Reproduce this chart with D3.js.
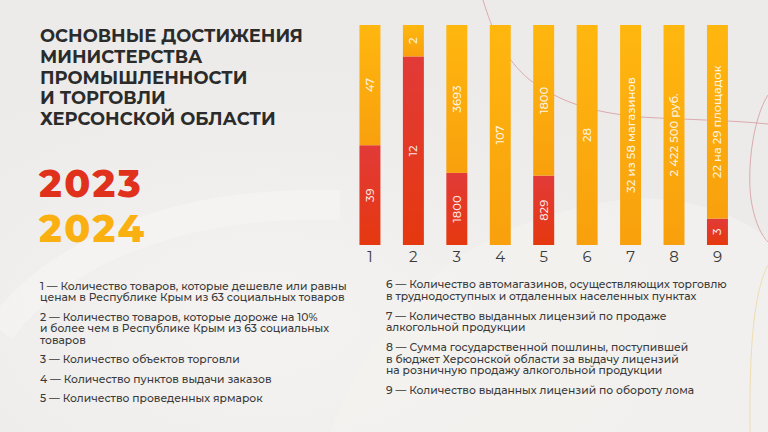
<!DOCTYPE html>
<html><head><meta charset="utf-8">
<script src="https://cdn.jsdelivr.net/npm/d3@7/dist/d3.min.js"></script>
<style>
html,body{margin:0;padding:0;background:#efeeec;overflow:hidden}
svg{display:block}
</style></head>
<body>
<svg id="c" width="768" height="432"></svg>
<script>
// ---- data ----
const categories = ["1","2","3","4","5","6","7","8","9"];
const values2023 = [39, 12, 1800, 0, 829, 0, 0, 0, 3];
const values2024 = [47, 2, 3693, 107, 1800, 28, 32, 2422500, 22];
const labels2023 = ["39","12","1800","","829","","","","3"];
const labels2024 = ["47","2","3693","107","1800","28","32 из 58 магазинов","2 422 500 руб.","22 на 29 площадок"];
const seriesNames = ["2023","2024"];
const titleLines = ["ОСНОВНЫЕ ДОСТИЖЕНИЯ","МИНИСТЕРСТВА","ПРОМЫШЛЕННОСТИ","И ТОРГОВЛИ","ХЕРСОНСКОЙ ОБЛАСТИ"];
const legendLeft = [
  ["1 — Количество товаров, которые дешевле или равны","ценам в Республике Крым из 63 социальных товаров"],
  ["2 — Количество товаров, которые дороже на 10%","и более чем в Республике Крым из 63 социальных","товаров"],
  ["3 — Количество объектов торговли"],
  ["4 — Количество пунктов выдачи заказов"],
  ["5 — Количество проведенных ярмарок"]
];
const legendRight = [
  ["6 — Количество автомагазинов, осуществляющих торговлю","в труднодоступных и отдаленных населенных пунктах"],
  ["7 — Количество выданных лицензий по продаже","алкогольной продукции"],
  ["8 — Сумма государственной пошлины, поступившей","в бюджет Херсонской области за выдачу лицензий","на розничную продажу алкогольной продукции"],
  ["9 — Количество выданных лицензий по обороту лома"]
];

const FONT = "Montserrat, Inter, 'Noto Sans', sans-serif";
const svg = d3.select("#c");
const defs = svg.append("defs");

// background
const bg = defs.append("radialGradient").attr("id","bgG").attr("cx","0.35").attr("cy","0.75").attr("r","0.6");
bg.append("stop").attr("offset","0").attr("stop-color","#f4f3f1");
bg.append("stop").attr("offset","1").attr("stop-color","#ecebe9");
svg.append("rect").attr("width",768).attr("height",432).attr("fill","url(#bgG)");
// subtle decorative shapes
svg.append("path").attr("d","M330,432 C380,300 470,220 620,200 C700,190 760,230 768,240 L768,432 Z")
  .attr("fill","#f3f2f0").attr("opacity",0.7);
svg.append("path").attr("d","M0,330 C60,250 180,200 340,205")
  .attr("fill","none").attr("stroke","#f6f5f3").attr("stroke-width",30).attr("opacity",0.6);
svg.append("path").attr("d","M483,0 C492,30 505,60 530,80 C560,102 590,112 640,117 C690,120 730,120 768,124")
  .attr("fill","none").attr("stroke","#d9a3a6").attr("stroke-width",0.9);
svg.append("path").attr("d","M768,95 C752,120 746,175 752,205 C756,225 762,236 768,242")
  .attr("fill","none").attr("stroke","#d9a3a6").attr("stroke-width",0.9);
svg.append("path").attr("d","M768,265 C755,290 749,340 750,432")
  .attr("fill","none").attr("stroke","#efd9a8").attr("stroke-width",0.9);

// gradients for bars
const gO = defs.append("linearGradient").attr("id","gO").attr("x1",0).attr("y1",0).attr("x2",0).attr("y2",1);
gO.append("stop").attr("offset","0").attr("stop-color","#ffb70f");
gO.append("stop").attr("offset","1").attr("stop-color","#f8a00d");
const gR = defs.append("linearGradient").attr("id","gR").attr("x1",0).attr("y1",0).attr("x2",0).attr("y2",1);
gR.append("stop").attr("offset","0").attr("stop-color","#e23a38");
gR.append("stop").attr("offset","1").attr("stop-color","#e5380f");

// helper: fit font-size so that a text reaches a target width
function fitSize(sel, target){
  const w = sel.node().getComputedTextLength();
  const fs = parseFloat(sel.attr("font-size"));
  return fs * target / w;
}

// ---- title ----
const title = svg.append("g");
const tl = title.selectAll("text").data(titleLines).join("text")
  .attr("x",40).attr("y",(d,i)=>42 + i*20.75)
  .attr("font-family",FONT).attr("font-weight",700).attr("font-size",17)
  .attr("fill","#2b2b2b").text(d=>d);
const tfs = fitSize(d3.select(tl.nodes()[0]), 263);
tl.attr("font-size",tfs);

// ---- years ----
const yearColors = ["#e0311c","#fbb011"];
const yr = svg.selectAll("text.yr").data(seriesNames).join("text").attr("class","yr")
  .attr("x",39).attr("y",(d,i)=>197 + i*45)
  .attr("font-family",FONT).attr("font-weight",800).attr("font-size",38)
  .attr("fill",(d,i)=>yearColors[i]).text(d=>d);
// widen with letter spacing to reference width
const yw = yr.nodes()[0].getComputedTextLength();
yr.attr("letter-spacing", Math.max(0,(104 - yw)/4) + "px");

// ---- bars ----
const data = categories.map((c,i)=>({cat:c, y2023:values2023[i], y2024:values2024[i], l2023:labels2023[i], l2024:labels2024[i]}));
const stack = d3.stack().keys(["y2023","y2024"]).offset(d3.stackOffsetExpand);
const series = stack(data);
const x = d3.scaleBand().domain(categories).range([337,750.4]).padding(0.517);
const y = d3.scaleLinear().domain([0,1]).range([245,25]);
const fills = ["url(#gR)","url(#gO)"];
const gBars = svg.append("g");
series.forEach((s,si)=>{
  gBars.append("g").selectAll("rect").data(s).join("rect")
    .attr("x",d=>x(d.data.cat)).attr("width",x.bandwidth())
    .attr("y",d=>y(d[1])).attr("height",d=>Math.max(0,y(d[0])-y(d[1])))
    .attr("fill",fills[si]);
});
// labels inside bars
const gLab = svg.append("g");
series.forEach((s,si)=>{
  const key = si===0 ? "l2023" : "l2024";
  gLab.append("g").selectAll("text").data(s.filter(d=>d.data[key] && d[1]>d[0])).join("text")
    .attr("transform",d=>`translate(${x(d.data.cat)+x.bandwidth()/2+4},${(y(d[0])+y(d[1]))/2}) rotate(-90)`)
    .attr("text-anchor","middle")
    .attr("font-family",FONT).attr("font-weight",500).attr("font-size",11.5)
    .attr("fill","#fff").attr("fill-opacity",0.88)
    .text(d=>d.data[key]);
});
// x axis (category numbers)
const xAxis = svg.append("g").attr("transform","translate(0,247)")
  .call(d3.axisBottom(x).tickSize(0).tickPadding(4));
xAxis.select(".domain").remove();
xAxis.selectAll("text").attr("font-family",FONT).attr("font-size",15).attr("font-weight",400)
  .attr("fill","#3a3a3a").attr("dy","0.71em");

// ---- legend text ----
function legend(items, x0, y0, lineH, gap){
  const g = svg.append("g");
  let yy = y0;
  const all=[];
  items.forEach(lines=>{
    lines.forEach((ln,j)=>{
      const t = g.append("text").attr("x",x0).attr("y",yy)
        .attr("font-family",FONT).attr("font-size",11).attr("font-weight",500)
        .attr("fill","#3a3a3a").text(ln);
      all.push(t);
      yy += lineH;
    });
    yy += gap;
  });
  return all;
}
const L = legend(legendLeft, 40, 289.5, 11.5, 8);
const R = legend(legendRight, 386, 288, 11.5, 8.5);
const lfs = fitSize(L[0], 307);
L.forEach(t=>t.attr("font-size",lfs));
R.forEach(t=>t.attr("font-size",lfs));
</script>
</body></html>
